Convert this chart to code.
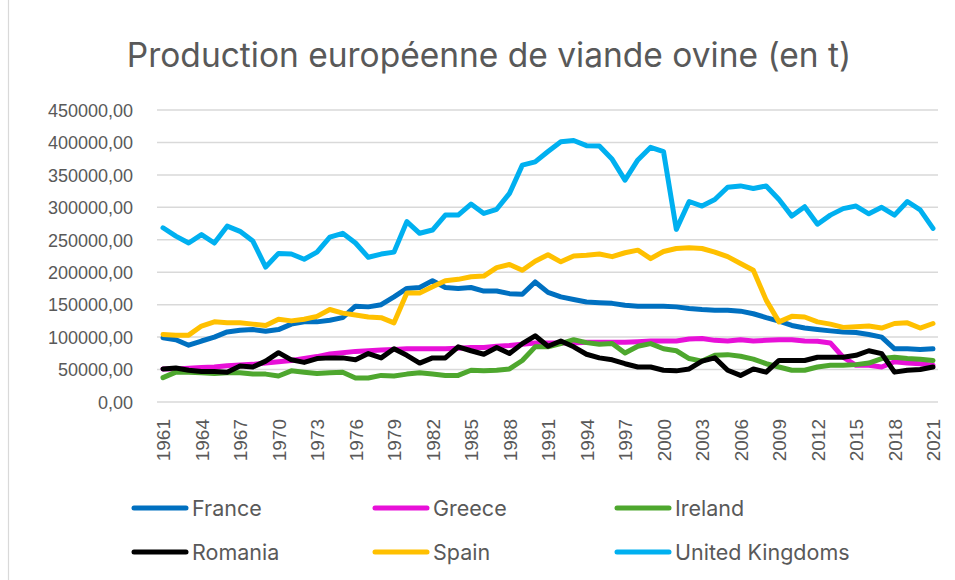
<!DOCTYPE html>
<html>
<head>
<meta charset="utf-8">
<script src="https://cdn.jsdelivr.net/npm/d3@7"></script>
<style>
  body { margin: 0; background: #fff; }
  svg text { fill: #595959; }
</style>
</head>
<body>
<div id="chart"></div>
<script>
// Data
const years = d3.range(1961, 2022);
const yTicks = [0, 50000, 100000, 150000, 200000, 250000, 300000, 350000, 400000, 450000];
const xTickYears = d3.range(1961, 2022, 3);

const france = [
  98800, 96000, 87500, 94000, 100000, 108000, 110600, 111600, 109000, 111600,
  120000, 123500, 123500, 126000, 130000, 147600, 146600, 150000, 162000, 175000,
  176500, 187000, 176500, 175000, 176500, 171000, 171000, 167000, 166000, 185000,
  169000, 162000, 158000, 154000, 153000, 152000, 149000, 147600, 147600, 147600,
  146600, 144000, 142500, 141500, 141500, 140000, 136000, 130000, 124500, 118000,
  114000, 111600, 109600, 108000, 107000, 104000, 100000, 82000, 82000, 81000, 82000
];
const greece = [
  51000, 51000, 52000, 53000, 54000, 56000, 57000, 58000, 60000, 62000,
  64000, 67000, 70000, 74000, 76000, 78000, 79000, 80000, 81000, 82000,
  82000, 82000, 82000, 83000, 84000, 84000, 86000, 87000, 89000, 91000,
  91000, 91000, 91000, 92000, 92000, 92000, 92000, 93000, 94000, 94000,
  94000, 97000, 98000, 95000, 94000, 96000, 94000, 95000, 96000, 96000,
  94000, 93600, 91000, 69000, 56600, 56600, 54000, 62000, 60000, 59000, 56600
];
const ireland = [
  37500, 46000, 46000, 45000, 44000, 45000, 45000, 43000, 43000, 40000,
  48000, 46000, 44000, 45000, 46000, 37000, 37000, 41000, 40000, 43000,
  45000, 43000, 41000, 41000, 49000, 48000, 49000, 51000, 64000, 85000,
  85000, 90000, 96000, 91500, 89000, 90000, 75600, 86000, 90000, 82000,
  79000, 67000, 63000, 72000, 73000, 70500, 66000, 59000, 54000, 49000,
  49000, 54000, 56600, 56600, 57600, 60000, 67000, 69000, 67000, 66000, 64000
];
const romania = [
  51000, 52500, 49000, 47000, 47000, 46000, 55500, 54000, 63000, 76000,
  65000, 61000, 67000, 68000, 68000, 65000, 74600, 68000, 82000, 72000,
  60000, 68000, 68000, 85000, 79000, 73600, 84000, 74600, 90000, 102000,
  86000, 94000, 85000, 73600, 68000, 65000, 59000, 54000, 54000, 49000,
  48000, 51000, 63000, 68000, 49000, 41000, 51000, 46000, 64000, 64000,
  64000, 69000, 69000, 69000, 72000, 79000, 74600, 46000, 49000, 50000, 54000
];
const spain = [
  104000, 103000, 103000, 117000, 123500, 122000, 122000, 120000, 118000, 127600,
  125000, 127600, 132000, 142500, 137000, 134000, 131000, 130000, 122000, 168000,
  168000, 177500, 187000, 189000, 193000, 194000, 207000, 212000, 203000, 217000,
  227000, 216000, 225000, 226000, 228000, 224000, 230000, 234000, 221000, 232000,
  236600, 237600, 236600, 231000, 224000, 213500, 203000, 157000, 123500, 132000,
  131000, 123500, 120000, 115000, 116000, 117000, 114000, 121000, 122000, 114000, 121000
];
const uk = [
  268500, 255700, 245000, 258000, 245000, 271000, 263000, 248000, 208000, 229000,
  228000, 220000, 231000, 254000, 260000, 245000, 223000, 228000, 231000, 278000,
  260000, 265000, 288000, 288000, 305000, 290600, 297000, 321500, 365000, 370000,
  386000, 401000, 403000, 395000, 394500, 374000, 342000, 373000, 392500, 386000,
  266000, 309000, 302000, 312000, 331000, 333000, 329000, 333000, 312000, 286500,
  301000, 274000, 288000, 298000, 302000, 290000, 300000, 288000, 309000, 296000, 267500
];

const seriesNames = ['France', 'Greece', 'Ireland', 'Romania', 'Spain', 'United Kingdoms'];
const seriesColors = ['#0070C0', '#E810D8', '#4EA72E', '#000000', '#FFC000', '#00B0F0'];
const seriesValues = [france, greece, ireland, romania, spain, uk];

const series = seriesNames.map((name, i) => ({
  name,
  color: seriesColors[i],
  values: seriesValues[i].map((v, j) => ({ year: years[j], value: v })),
}));

// Dimensions
const width = 955;
const height = 580;
const plot = { left: 157, right: 938, top: 110, bottom: 402 };

const svg = d3
  .select('#chart')
  .append('svg')
  .attr('width', width)
  .attr('height', height)
  .style('font-family', 'Inter, "Open Sans", "Liberation Sans", sans-serif');

// chart border (only the left edge is visible in the frame)
svg
  .append('rect')
  .attr('x', 8.5)
  .attr('y', -5)
  .attr('width', width + 10)
  .attr('height', height + 20)
  .attr('fill', 'none')
  .attr('stroke', '#d9d9d9')
  .attr('stroke-width', 1.2);

// Scales
const xScale = d3
  .scalePoint()
  .domain(years)
  .range([163, 933]);

const yScale = d3
  .scaleLinear()
  .domain([0, 450000])
  .range([plot.bottom, plot.top]);

// Title
svg
  .append('text')
  .attr('x', 489)
  .attr('y', 67)
  .attr('text-anchor', 'middle')
  .style('font-size', '33.5px')
  .text('Production européenne de viande ovine (en t)');

// Gridlines
svg
  .append('g')
  .selectAll('line')
  .data(yTicks)
  .join('line')
  .attr('x1', plot.left)
  .attr('x2', plot.right)
  .attr('y1', (d) => yScale(d))
  .attr('y2', (d) => yScale(d))
  .attr('stroke', '#d9d9d9')
  .attr('stroke-width', 1.5);

// Y axis
const fmt = (d) => d.toFixed(2).replace('.', ',');
const yAxis = d3
  .axisLeft(yScale)
  .tickValues(yTicks)
  .tickFormat(fmt)
  .tickSize(0)
  .tickPadding(0);

const yAxisGroup = svg
  .append('g')
  .attr('transform', 'translate(133,0)')
  .call(yAxis);
yAxisGroup.select('.domain').remove();
yAxisGroup
  .selectAll('text')
  .style('font-size', '18px')
  .style('fill', '#595959')
  .attr('dy', '0.35em');

// X axis
const xAxis = d3
  .axisBottom(xScale)
  .tickValues(xTickYears)
  .tickSize(0)
  .tickPadding(0);

const xAxisGroup = svg
  .append('g')
  .attr('transform', `translate(0,${plot.bottom})`)
  .call(xAxis);
xAxisGroup.select('.domain').remove();
xAxisGroup
  .selectAll('text')
  .style('font-size', '19px')
  .style('fill', '#595959')
  .attr('text-anchor', 'end')
  .attr('transform', 'rotate(-90)')
  .attr('x', -17)
  .attr('y', 0)
  .attr('dy', '0.35em');

// Lines
const line = d3
  .line()
  .x((d) => xScale(d.year))
  .y((d) => yScale(d.value));

svg
  .append('g')
  .selectAll('path')
  .data(series)
  .join('path')
  .attr('d', (d) => line(d.values))
  .attr('fill', 'none')
  .attr('stroke', (d) => d.color)
  .attr('stroke-width', 5)
  .attr('stroke-linejoin', 'round')
  .attr('stroke-linecap', 'round');

// Legend
const legendCols = [132, 373, 615];
const legendRows = [508, 552];

const legend = svg
  .append('g')
  .selectAll('g')
  .data(series)
  .join('g')
  .attr('transform', (d, i) => `translate(${legendCols[i % 3]},${legendRows[Math.floor(i / 3)]})`);

legend
  .append('line')
  .attr('x1', 2)
  .attr('x2', 54)
  .attr('y1', 0)
  .attr('y2', 0)
  .attr('stroke', (d) => d.color)
  .attr('stroke-width', 5)
  .attr('stroke-linecap', 'round');

legend
  .append('text')
  .attr('x', 60)
  .attr('y', 0)
  .attr('dy', '0.36em')
  .style('font-size', '21.5px')
  .text((d) => d.name);
</script>
</body>
</html>
